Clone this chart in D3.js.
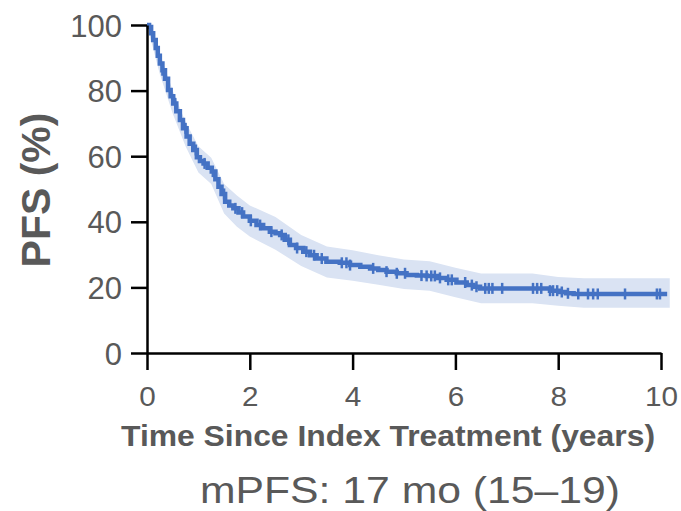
<!DOCTYPE html>
<html>
<head>
<meta charset="utf-8">
<script src="https://cdn.jsdelivr.net/npm/d3@7"></script>
<style>
  body { margin: 0; background: #fff; }
  text { font-family: "Liberation Sans", Arial, sans-serif; fill: #595959; }
</style>
</head>
<body>
<div id="chart"></div>
<script>
// Kaplan-Meier estimate (years, % PFS)
const kmTimes = [0, 0.04, 0.08, 0.12, 0.17, 0.21, 0.25, 0.30, 0.35, 0.41,
  0.46, 0.51, 0.57, 0.64, 0.70, 0.77, 0.83, 0.90, 0.97, 1.03,
  1.10, 1.18, 1.26, 1.33, 1.39, 1.45, 1.52, 1.60, 1.68, 1.78,
  1.87, 2.00, 2.13, 2.26, 2.39, 2.50, 2.59, 2.68, 2.78, 2.90,
  3.04, 3.17, 3.30, 3.49, 3.75, 3.95, 4.15, 4.34, 4.50, 4.66,
  4.86, 5.05, 5.25, 5.44, 5.65, 5.83, 6.02, 6.22, 6.35, 6.48,
  7.84, 8.03, 8.15, 8.30, 10.12];
const kmSurv = [100, 99.4, 97.5, 95.4, 93.0, 90.6, 88.3, 86.2, 83.6, 80.2,
  78.3, 76.1, 73.7, 71.0, 68.5, 66.0, 63.8, 61.9, 59.7, 58.5,
  57.8, 56.5, 55.3, 53.0, 50.7, 48.5, 46.1, 45.0, 44.1, 42.8,
  41.6, 40.3, 39.0, 38.0, 37.0, 36.5, 36.0, 34.5, 32.9, 32.0,
  30.9, 29.8, 28.8, 27.8, 27.5, 26.8, 26.3, 25.8, 25.3, 24.8,
  24.3, 23.8, 23.6, 23.5, 22.9, 22.3, 21.5, 20.7, 20.2, 19.7,
  19.0, 18.6, 18.2, 18.0, 18.0];

// 95% confidence band
const ciTimes = [0, 0.25, 0.5, 0.75, 1.0, 1.25, 1.5, 1.75, 2.0, 2.5, 3.0, 3.5,
  4.0, 4.5, 5.0, 5.5, 6.0, 6.5, 7.0, 7.5, 8.0, 8.5, 9.0, 9.5, 10.17];
const ciUpper = [100, 91.5, 80, 70.5, 63, 59.5, 51.5, 48, 45, 41.5, 36, 32.5,
  31.3, 29.8, 28.5, 28, 26, 24.2, 24.2, 24.2, 23.2, 22.8, 22.8, 22.8, 22.8];
const ciLower = [100, 85, 73, 63, 55, 51.5, 42.5, 38.5, 35.5, 31.5, 26.5, 23,
  22, 20.8, 19.5, 19, 17, 15.2, 15.2, 15.2, 14.4, 13.8, 13.8, 13.8, 13.8];

// censored observations (years)
const censorTimes = [0.3, 0.55, 0.75, 0.95, 1.12, 1.28, 1.5, 1.72, 1.85, 2.02,
  2.2, 2.42, 2.62, 2.75, 2.92, 3.1, 3.25, 3.4, 3.79, 3.88, 3.95, 4.4, 4.66,
  4.86, 5.02, 5.34, 5.44, 5.53, 5.6, 5.7, 5.86, 5.93, 6.19, 6.32, 6.41,
  6.58, 6.65, 6.72, 6.91, 7.51, 7.59, 7.67, 7.84, 7.9, 7.98, 8.07, 8.19,
  8.39, 8.58, 8.68, 8.77, 9.3, 9.92, 9.98];

const xTicks = [0, 2, 4, 6, 8, 10];
const yTicks = [0, 20, 40, 60, 80, 100];

const width = 681, height = 511;
const margin = {top: 25, right: 20, bottom: 158, left: 147};
const blue = "#4472c4", band = "#dae3f3";

const svg = d3.select("#chart")
    .append("svg")
    .attr("width", width)
    .attr("height", height);

const x = d3.scaleLinear()
    .domain([0, 10])
    .range([margin.left, 661]);
const y = d3.scaleLinear()
    .domain([0, 100])
    .range([height - margin.bottom, margin.top]);

// confidence band
const ci = ciTimes.map((t, i) => ({t: t, lo: ciLower[i], hi: ciUpper[i]}));
svg.append("path")
    .datum(ci)
    .attr("fill", band)
    .attr("d", d3.area()
        .x(d => x(d.t))
        .y0(d => y(d.lo))
        .y1(d => y(d.hi)));

// step curve
const km = kmTimes.map((t, i) => ({t: t, s: kmSurv[i]}));
svg.append("path")
    .datum(km)
    .attr("fill", "none")
    .attr("stroke", blue)
    .attr("stroke-width", 4.5)
    .attr("d", d3.line()
        .curve(d3.curveStepAfter)
        .x(d => x(d.t))
        .y(d => y(d.s)));

// censor marks sit on the curve value at their time
const bis = d3.bisector(d => d.t).right;
svg.selectAll(".cens")
    .data(censorTimes)
    .join("line")
    .attr("class", "cens")
    .attr("x1", d => x(d)).attr("x2", d => x(d))
    .attr("y1", d => y(km[Math.max(0, bis(km, d) - 1)].s) - 5.5)
    .attr("y2", d => y(km[Math.max(0, bis(km, d) - 1)].s) + 5.5)
    .attr("stroke", blue)
    .attr("stroke-width", 2.5);

// axes
const yAxis = svg.append("g")
    .attr("transform", `translate(${margin.left},0)`)
    .call(d3.axisLeft(y).tickValues(yTicks).tickSize(16).tickSizeOuter(0).tickPadding(9));
yAxis.selectAll("text")
    .style("font-size", "31px")
    .attr("dy", "0.36em");

const xAxis = svg.append("g")
    .attr("transform", `translate(0,${y(0)})`)
    .call(d3.axisBottom(x).tickValues(xTicks).tickSize(17).tickSizeOuter(0).tickPadding(0));
xAxis.selectAll(".tick text")
    .style("font-size", "27px")
    .attr("dy", null)
    .attr("y", 0)
    .attr("transform", "translate(0,53) scale(1.1,1)");

svg.selectAll(".domain, .tick line")
    .attr("stroke", "#000")
    .attr("stroke-width", 2.5);
svg.selectAll(".tick text").attr("fill", "#595959");

// titles
svg.append("text")
    .attr("transform", `translate(50,190) rotate(-90)`)
    .attr("text-anchor", "middle")
    .style("font-size", "41px")
    .style("font-weight", "bold")
    .text("PFS (%)");

svg.append("text")
    .attr("x", 121)
    .attr("y", 446)
    .attr("textLength", 534)
    .attr("lengthAdjust", "spacingAndGlyphs")
    .style("font-size", "29px")
    .style("font-weight", "bold")
    .text("Time Since Index Treatment (years)");

svg.append("text")
    .attr("x", 200)
    .attr("y", 503)
    .attr("textLength", 420)
    .attr("lengthAdjust", "spacingAndGlyphs")
    .style("font-size", "36px")
    .text("mPFS: 17 mo (15\u201319)");
</script>
</body>
</html>
